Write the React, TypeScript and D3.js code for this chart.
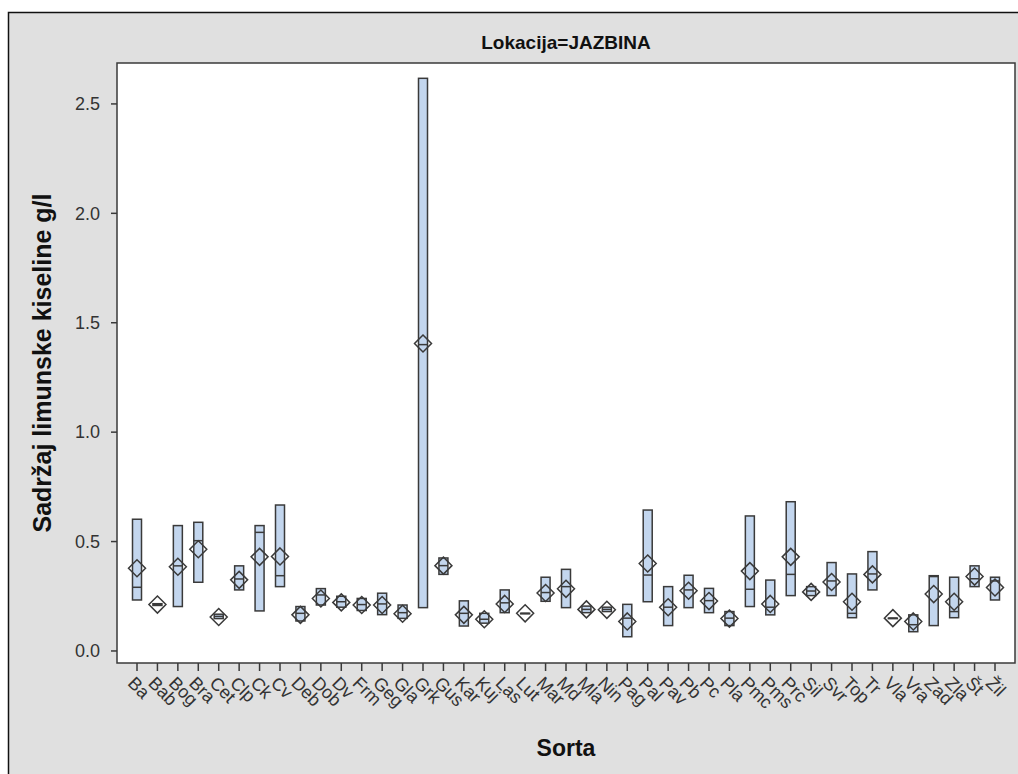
import React from "react";
import * as d3 from "d3";

const categories = ["Ba","Bab","Bog","Bra","Cet","Clp","Ck","Cv","Deb","Dob","Dv","Frm","Geg","Gla","Grk","Gus","Kar","Kuj","Las","Lut","Mar","Md","Mla","Nin","Pag","Pal","Pav","Pb","Pc","Pla","Pmc","Pms","Prc","Sil","Svr","Top","Tr","Vla","Vra","Zad","Zla","Št","Žil"];
const boxLow = [0.233,0.208,0.203,0.314,0.148,0.279,0.183,0.294,0.137,0.21,0.2,0.185,0.166,0.149,0.198,0.35,0.114,0.127,0.175,0.172,0.227,0.198,0.175,0.18,0.065,0.225,0.116,0.198,0.175,0.116,0.203,0.165,0.253,0.253,0.253,0.152,0.279,0.15,0.088,0.116,0.152,0.294,0.233];
const medians = [0.291,0.212,0.389,0.504,0.158,0.329,0.542,0.344,0.172,0.256,0.225,0.212,0.215,0.175,1.40,0.39,0.172,0.145,0.22,0.172,0.267,0.294,0.19,0.19,0.15,0.347,0.2,0.279,0.23,0.15,0.282,0.2,0.35,0.274,0.32,0.172,0.352,0.15,0.12,0.34,0.18,0.33,0.32];
const boxHigh = [0.602,0.216,0.573,0.588,0.168,0.389,0.573,0.667,0.203,0.285,0.25,0.24,0.264,0.21,2.617,0.425,0.229,0.172,0.279,0.172,0.337,0.373,0.205,0.2,0.213,0.644,0.294,0.346,0.286,0.18,0.617,0.324,0.682,0.294,0.404,0.352,0.454,0.15,0.165,0.344,0.337,0.389,0.337];
const means = [0.378,0.212,0.385,0.465,0.155,0.325,0.43,0.432,0.165,0.24,0.222,0.21,0.21,0.17,1.405,0.39,0.165,0.145,0.215,0.172,0.265,0.284,0.19,0.188,0.135,0.4,0.2,0.275,0.228,0.148,0.365,0.215,0.43,0.27,0.315,0.225,0.35,0.15,0.135,0.26,0.225,0.34,0.29];
const yTicks = [0, 0.5, 1.0, 1.5, 2.0, 2.5];

const W = 1018, H = 774;
const PL = 117, PR = 1015, PT = 63, PB = 663;

export default function App() {
  const x = d3.scalePoint<string>().domain(categories).range([137, 995]);
  const y = d3.scaleLinear().domain([-0.055, 2.687]).range([PB, PT]);
  const stroke = "#3a3a3a";
  const font = "Arial, 'Liberation Sans', sans-serif";
  const bw = 9, dm = 8.5;
  return (
    <svg width={W} height={H} style={{ position: "absolute", left: 0, top: 0 }} fontFamily={font}>
      <rect x={0} y={0} width={W} height={H} fill="#ffffff" />
      <rect x={8.5} y={12.5} width={W + 20} height={H + 20} fill="#e0e0e0" stroke="#111" strokeWidth={1.5} />
      <rect x={PL} y={PT} width={PR - PL} height={PB - PT} fill="#ffffff" stroke={stroke} strokeWidth={1.5} />
      <text x={(PL + PR) / 2} y={49} textAnchor="middle" fontWeight="bold" fontSize={19} fill="#111">Lokacija=JAZBINA</text>
      {yTicks.map((t) => (
        <g key={t}>
          <line x1={PL - 6} x2={PL} y1={y(t)} y2={y(t)} stroke={stroke} strokeWidth={1.5} />
          <text x={PL - 17} y={y(t)} dy="0.35em" textAnchor="end" fontSize={18} fill="#333">{d3.format(".1f")(t)}</text>
        </g>
      ))}
      {categories.map((c) => (
        <g key={c}>
          <line x1={x(c)} x2={x(c)} y1={PB} y2={PB + 8} stroke={stroke} strokeWidth={1.5} />
          <text transform={`translate(${x(c)! - 1},${PB + 12}) rotate(45)`} dy="0.72em" textAnchor="start" fontSize={18} fill="#333">{c}</text>
        </g>
      ))}
      {categories.map((c, i) => {
        const cx = x(c)!;
        const top = y(boxHigh[i]);
        const bot = y(boxLow[i]);
        const my = y(means[i]);
        return (
          <g key={"b" + c}>
            <rect x={cx - bw / 2} y={top} width={bw} height={Math.max(bot - top, 0.5)} fill="#c3d6ee" stroke={stroke} strokeWidth={1.5} />
            <line x1={cx - bw / 2} x2={cx + bw / 2} y1={y(medians[i])} y2={y(medians[i])} stroke={stroke} strokeWidth={1.5} />
            <path d={`M${cx},${my - dm}L${cx + dm},${my}L${cx},${my + dm}L${cx - dm},${my}Z`} fill="none" stroke={stroke} strokeWidth={1.5} />
          </g>
        );
      })}
      <text transform={`translate(51,${(PT + PB) / 2}) rotate(-90)`} textAnchor="middle" fontWeight="bold" fontSize={25} fill="#111">Sadržaj limunske kiseline g/l</text>
      <text x={(PL + PR) / 2} y={756} textAnchor="middle" fontWeight="bold" fontSize={23} fill="#111">Sorta</text>
    </svg>
  );
}
